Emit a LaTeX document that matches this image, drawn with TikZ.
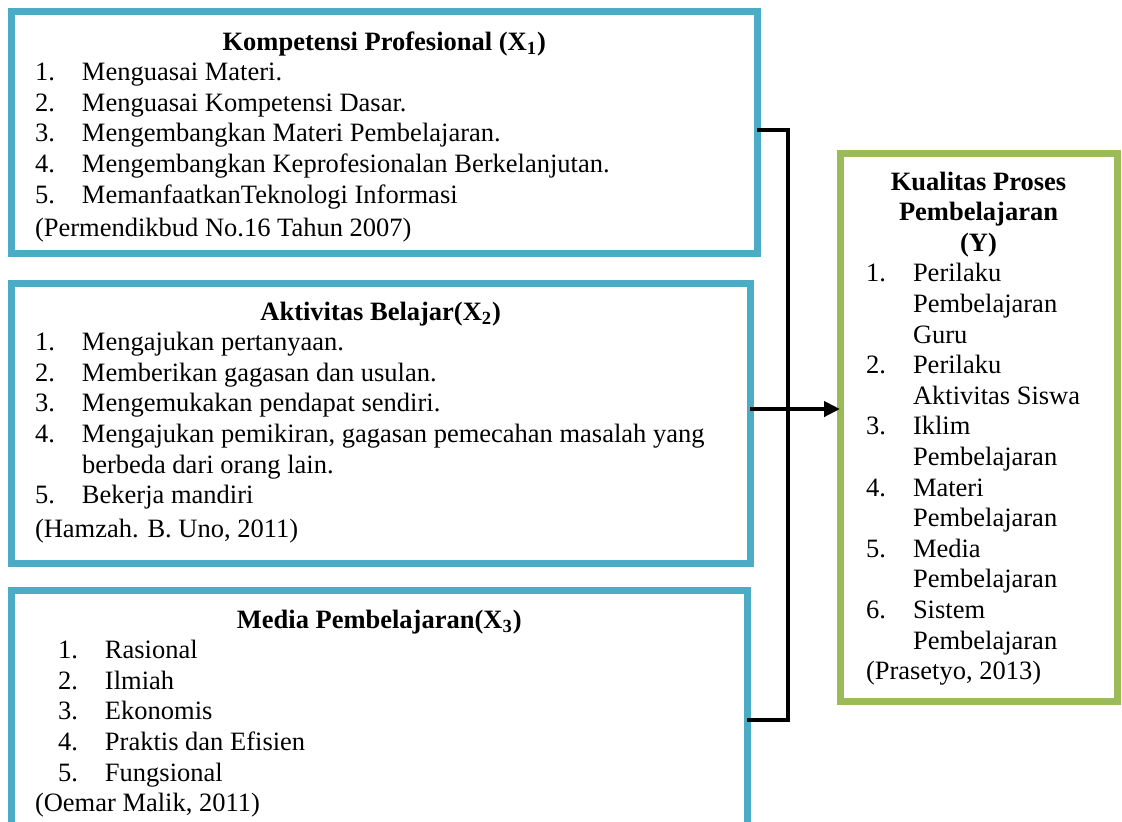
\documentclass[tikz,border=0pt]{standalone}
\usepackage{fontspec}
\setmainfont{Liberation Serif}
\usepackage{xcolor}
\usepackage{tikz}
\usetikzlibrary{arrows.meta, positioning}
\definecolor{frameblue}{HTML}{4BACC6}
\definecolor{framegreen}{HTML}{9BBB59}
\newcommand{\listline}[3]{\hspace*{#1}\makebox[23.5pt][l]{#2}#3}

\begin{document}
\begin{tikzpicture}[
    x=0.5pt, y=-0.5pt,
    every node/.style={font=\fontsize{13.25}{15.3}\selectfont},
    panel/.style={rectangle, draw=frameblue, line width=3.5pt, inner sep=0pt,
                  outer sep=0pt, anchor=north west},
    result/.style={panel, draw=framegreen},
    link/.style={line width=2pt, color=black},
    arrow/.style={link, -{Triangle[length=8pt, width=7.5pt]}}
]
\useasboundingbox (0,0) rectangle (1122,821);
\clip (0,0) rectangle (1122,821);

% Variabel X
\node[panel] (kompetensi) at (11.5,11.5) {\parbox[c][120.75pt][t]{372.75pt}{%
    \rule{0pt}{19.25pt}\hfill\textbf{Kompetensi Profesional (X\textsubscript{1})}\hfill\null\\
    \listline{11.75pt}{1.}{Menguasai Materi.}\\
    \listline{11.75pt}{2.}{Menguasai Kompetensi Dasar.}\\
    \listline{11.75pt}{3.}{Mengembangkan Materi Pembelajaran.}\\
    \listline{11.75pt}{4.}{Mengembangkan Keprofesionalan Berkelanjutan.}\\
    \listline{11.75pt}{5.}{MemanfaatkanTeknologi Informasi}\\[1.5pt]
    \hspace*{11.75pt}(Permendikbud No.16 Tahun 2007)}};

\node[panel] (aktivitas) at (11.5,283) {\parbox[c][140pt][t]{369.25pt}{%
    \rule{0pt}{18.5pt}\hfill\textbf{Aktivitas Belajar(X\textsubscript{2})}\hfill\null\\
    \listline{11.75pt}{1.}{Mengajukan pertanyaan.}\\
    \listline{11.75pt}{2.}{Memberikan gagasan dan usulan.}\\
    \listline{11.75pt}{3.}{Mengemukakan pendapat sendiri.}\\
    \listline{11.75pt}{4.}{Mengajukan pemikiran, gagasan pemecahan masalah yang}\\
    \hspace*{35.25pt}berbeda dari orang lain.\\
    \listline{11.75pt}{5.}{Bekerja mandiri}\\[1.5pt]
    \hspace*{11.75pt}(Hamzah. B. Uno, 2011)}};

\node[panel] (media) at (11.5,590) {\parbox[c][130pt][t]{367.75pt}{%
    \rule{0pt}{19pt}\hfill\textbf{Media Pembelajaran(X\textsubscript{3})}\hfill\null\\
    \listline{23.25pt}{1.}{Rasional}\\
    \listline{23.25pt}{2.}{Ilmiah}\\
    \listline{23.25pt}{3.}{Ekonomis}\\
    \listline{23.25pt}{4.}{Praktis dan Efisien}\\
    \listline{23.25pt}{5.}{Fungsional}\\
    \hspace*{11.75pt}(Oemar Malik, 2011)}};

% Variabel Y
\node[result] (kualitas) at (840,153) {\parbox[c][274pt][t]{138.5pt}{%
    \rule{0pt}{18.5pt}\hfill\textbf{Kualitas Proses}\hfill\null\\
    \null\hfill\textbf{Pembelajaran}\hfill\null\\
    \null\hfill\textbf{(Y)}\hfill\null\\
    \listline{13pt}{1.}{Perilaku}\\
    \hspace*{36.5pt}Pembelajaran\\
    \hspace*{36.5pt}Guru\\
    \listline{13pt}{2.}{Perilaku}\\
    \hspace*{36.5pt}Aktivitas Siswa\\
    \listline{13pt}{3.}{Iklim}\\
    \hspace*{36.5pt}Pembelajaran\\
    \listline{13pt}{4.}{Materi}\\
    \hspace*{36.5pt}Pembelajaran\\
    \listline{13pt}{5.}{Media}\\
    \hspace*{36.5pt}Pembelajaran\\
    \listline{13pt}{6.}{Sistem}\\
    \hspace*{36.5pt}Pembelajaran\\
    \hspace*{13pt}(Prasetyo, 2013)}};

% Connectors
\coordinate (top) at (788,130);
\coordinate (bottom) at (788,720);
\coordinate (join) at (788,409);
\draw[link] (kompetensi.east |- top) -- (top) -- (bottom) -- (media.east |- bottom);
\draw[arrow] (aktivitas.east |- join) -- (kualitas.west |- join);

\end{tikzpicture}
\end{document}
